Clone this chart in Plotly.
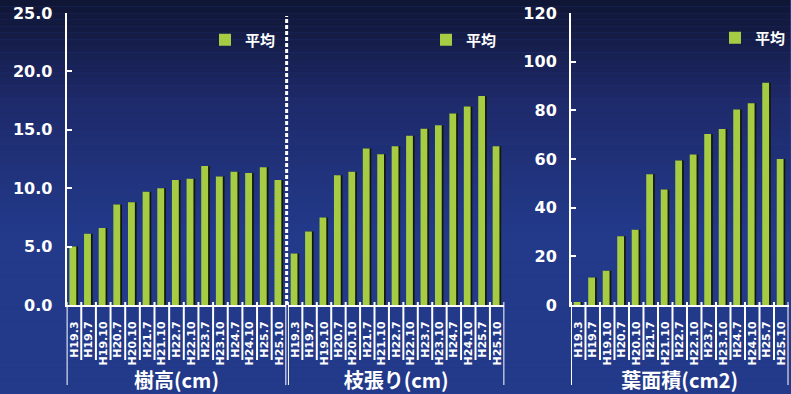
import plotly.graph_objects as go

categories = ["H19.3", "H19.7", "H19.10", "H20.7", "H20.10", "H21.7", "H21.10",
              "H22.7", "H22.10", "H23.7", "H23.10", "H24.7", "H24.10", "H25.7", "H25.10"]
height_cm = [5.0, 6.1, 6.6, 8.6, 8.8, 9.7, 10.0, 10.7, 10.8, 11.9, 11.0, 11.4, 11.3, 11.8, 10.7]
spread_cm = [4.4, 6.3, 7.5, 11.1, 11.4, 13.4, 12.9, 13.6, 14.5, 15.1, 15.4, 16.4, 17.0, 17.9, 13.6]
leaf_cm2 = [1.2, 11.3, 14.1, 28.3, 30.9, 53.7, 47.5, 59.4, 61.9, 70.3, 72.3, 80.3, 82.9, 91.3, 60.0]
series_name = "平均"
group_titles = ["樹高(cm)", "枝張り(cm)", "葉面積(cm2)"]

W, H = 791, 394
GREEN = "#a6cc44"
SHADOW = "#141808"
WHITE = "#ffffff"


def px_x(p):
    return p / W


def px_y(p):
    return 1 - p / H


y_dom = [px_y(305), px_y(13)]
x_doms = [[px_x(66.7), px_x(286.7)], [px_x(288.3), px_x(505)], [px_x(571.7), px_x(789.5)]]
datasets = [height_cm, spread_cm, leaf_cm2]

fig = go.Figure()

for i, vals in enumerate(datasets):
    xa = "x" if i == 0 else f"x{i+1}"
    ya = "y" if i == 0 else f"y{i+1}"
    lg = "legend" if i == 0 else f"legend{i+1}"
    fig.add_trace(go.Bar(x=categories, y=vals, xaxis=xa, yaxis=ya,
                         marker=dict(color=SHADOW, line=dict(width=0)),
                         width=0.47, offset=-0.19, showlegend=False, hoverinfo="skip"))
    fig.add_trace(go.Bar(x=categories, y=vals, xaxis=xa, yaxis=ya, name=series_name,
                         marker=dict(color=GREEN, line=dict(width=0)),
                         width=0.47, offset=-0.31, legend=lg))

tickfont = dict(family="DejaVu Sans", size=11, color=WHITE, weight="bold")
for i in range(3):
    key = "xaxis" if i == 0 else f"xaxis{i+1}"
    anchor = "y" if i == 0 else f"y{i+1}"
    fig.layout[key] = dict(
        domain=x_doms[i], anchor=anchor, type="category", categoryorder="array",
        categoryarray=categories, range=[-0.5, 14.5], tickangle=-90, ticks="",
        showline=True, linecolor=WHITE, linewidth=2, showgrid=False, zeroline=False,
        tickfont=tickfont, ticklabelstandoff=10, automargin=False,
        title=dict(text=group_titles[i], standoff=4,
                   font=dict(family="Noto Sans CJK JP", size=20, color=WHITE, weight="bold")),
    )

yfont = dict(family="DejaVu Sans", size=16, color=WHITE, weight="bold")
fig.layout.yaxis = dict(domain=y_dom, anchor="x", range=[0, 25], dtick=5, tickformat=".1f",
                        ticks="inside", ticklen=5, tickwidth=2, tickcolor=WHITE,
                        showline=True, linecolor=WHITE, linewidth=2, showgrid=False,
                        zeroline=False, tickfont=yfont, ticklabelstandoff=9, automargin=False)
fig.layout.yaxis2 = dict(domain=y_dom, anchor="x2", range=[0, 25], visible=False)
fig.layout.yaxis3 = dict(domain=y_dom, anchor="x3", range=[0, 120], dtick=20,
                         ticks="inside", ticklen=5, tickwidth=2, tickcolor=WHITE,
                         showline=True, linecolor=WHITE, linewidth=2, showgrid=False,
                         zeroline=False, tickfont=yfont, ticklabelstandoff=9, automargin=False)

shapes = []
# background gradient bands
top = (16, 22, 52)
mid = (30, 42, 106)
bot = (35, 58, 138)
nb = 60
for k in range(nb):
    y0 = k * H / nb
    y1 = (k + 1) * H / nb
    t = (y0 + y1) / 2
    if t < 100:
        f = t / 100
        c = tuple(int(top[j] + (mid[j] - top[j]) * f) for j in range(3))
    elif t < 230:
        f = (t - 100) / 130
        c = tuple(int(mid[j] + (bot[j] - mid[j]) * f) for j in range(3))
    else:
        c = bot
    shapes.append(dict(type="rect", xref="paper", yref="paper", x0=0, x1=1,
                       y0=px_y(y1), y1=px_y(y0), line=dict(width=0),
                       fillcolor=f"rgb{c}", layer="below"))

# category dividers below x axes
for i in range(3):
    xr = "x" if i == 0 else f"x{i+1}"
    for b in range(16):
        long_line = b in (0, 15)
        shapes.append(dict(type="line", xref=xr, yref="paper", x0=b - 0.5, x1=b - 0.5,
                           y0=px_y(302), y1=px_y(385 if long_line else 360),
                           line=dict(color=WHITE, width=2)))

# dashed separator between panel 1 and 2
shapes.append(dict(type="line", xref="paper", yref="paper", x0=px_x(287), x1=px_x(287),
                   y0=px_y(305), y1=px_y(16), line=dict(color=WHITE, width=3, dash="4px,2px")))

legfont = dict(family="Noto Sans CJK JP", size=15, color=WHITE, weight="bold")
leg_pos = [(205, 40), (426, 40), (716, 38)]
legends = {}
for i, (lx, ly) in enumerate(leg_pos):
    key = "legend" if i == 0 else f"legend{i+1}"
    legends[key] = dict(x=px_x(lx), y=px_y(ly), xanchor="left", yanchor="middle",
                        bgcolor="rgba(0,0,0,0)", font=legfont, itemwidth=30)

fig.update_layout(
    width=W, height=H, margin=dict(l=0, r=0, t=0, b=0),
    paper_bgcolor="rgb(35,58,138)", plot_bgcolor="rgba(0,0,0,0)",
    barmode="overlay", shapes=shapes, bargap=0.5, **legends,
)

fig.write_html("out.html")
